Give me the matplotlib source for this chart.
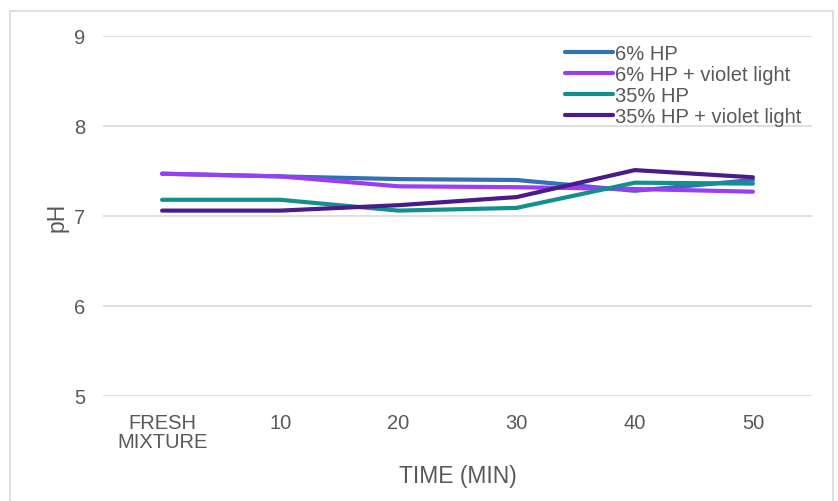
import matplotlib.pyplot as plt
from matplotlib.patches import Rectangle

plt.rcParams['font.family'] = ['Liberation Sans', 'DejaVu Sans']

# Données
temps = ['FRESH\nMIXTURE', '10', '20', '30', '40', '50']
hp6 = [7.47, 7.44, 7.41, 7.40, 7.28, 7.40]
hp6_violet = [7.47, 7.44, 7.33, 7.32, 7.30, 7.27]
hp35 = [7.18, 7.18, 7.06, 7.09, 7.37, 7.36]
hp35_violet = [7.06, 7.06, 7.12, 7.21, 7.51, 7.43]

series = [
    ('6% HP', hp6, '#3272b3'),
    ('6% HP + violet light', hp6_violet, '#9b3df5'),
    ('35% HP', hp35, '#12908e'),
    ('35% HP + violet light', hp35_violet, '#4b1a8c'),
]

gris = '#595959'

fig = plt.figure(figsize=(8.38, 5.02), dpi=100)
ax = fig.add_axes([103 / 838, 1 - 397 / 502, 709 / 838, 360 / 502])

# Cadre extérieur
fig.patches.append(Rectangle((9.5 / 838, -0.01), 823.5 / 838, 1 - 12 / 502 + 0.01,
                             transform=fig.transFigure, fill=False,
                             edgecolor='#d9d9d9', linewidth=1.2))

x = range(len(temps))
for nom, valeurs, couleur in series:
    ax.plot(x, valeurs, color=couleur, linewidth=3, label=nom, solid_capstyle='round')

ax.set_xlim(-0.5, len(temps) - 0.5)
ax.set_ylim(5, 9)
ax.set_yticks([5, 6, 7, 8, 9])
ax.set_xticks(list(x))
ax.set_xticklabels(temps)
ax.grid(axis='y', color='#d9d9d9', linewidth=1.2)
ax.set_axisbelow(True)
for s in ax.spines.values():
    s.set_visible(False)
ax.tick_params(length=0, labelsize=14.5, labelcolor=gris)
ax.tick_params(axis='x', pad=12)
ax.tick_params(axis='y', pad=13)
for lab in ax.get_xticklabels():
    lab.set_linespacing(1.05)

ax.set_xlabel('TIME (MIN)', fontsize=16.5, color=gris, labelpad=9)
ax.set_ylabel('pH', fontsize=16.5, color=gris, labelpad=4)

leg = fig.legend(loc='upper left', bbox_to_anchor=(565 / 838, 1 - 45 / 502),
                 frameon=False, fontsize=14.5, labelspacing=0.1, handlelength=2.4,
                 handletextpad=0.1, borderpad=0, borderaxespad=0)
for t in leg.get_texts():
    t.set_color(gris)

fig.savefig('out.png', dpi=100)
